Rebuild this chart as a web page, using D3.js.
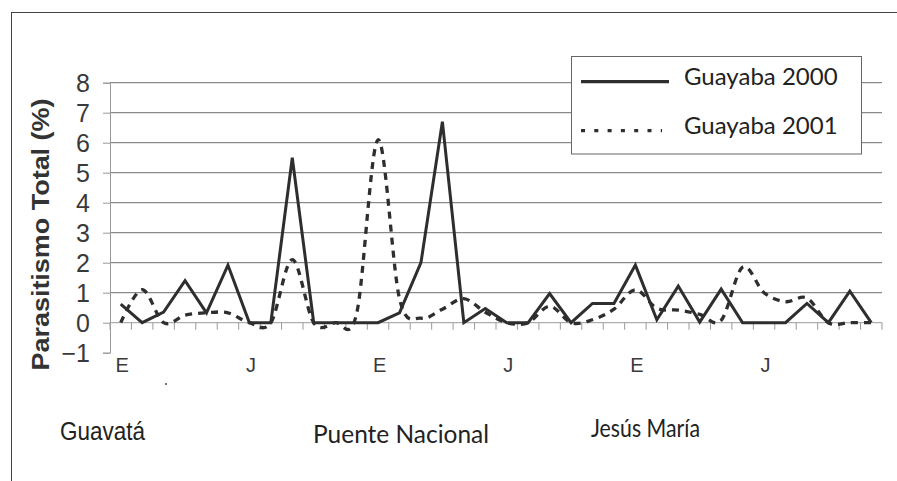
<!DOCTYPE html>
<html>
<head>
<meta charset="utf-8">
<script src="https://cdn.jsdelivr.net/npm/d3@7"></script>
<style>
  html, body { margin: 0; padding: 0; background: #fff; }
  svg { display: block; }
</style>
</head>
<body>
<div id="chart"></div>
<script>
// Months of each site (only every 6th label is shown: E = enero, J = julio)
const months = ["E", "F", "M", "A", "M", "J", "J", "A", "S", "O", "N", "D"];
const locations = ["Guavatá", "Puente Nacional", "Jesús María"];
const seriesNames = ["Guayaba 2000", "Guayaba 2001"];
const yTicks = [-1, 0, 1, 2, 3, 4, 5, 6, 7, 8];

// Parasitismo total (%) per month, 3 sites x 12 months
const guayaba2000 = [
  0.62, 0, 0.35, 1.4, 0.33, 1.92, 0, 0, 5.5, 0, 0, 0,
  0, 0.33, 2.0, 6.7, 0, 0.47, 0, 0, 0.97, 0, 0.64, 0.64,
  1.92, 0.1, 1.22, 0.02, 1.12, 0, 0, 0, 0.64, 0, 1.05, 0
];
const guayaba2001 = [
  0, 1.1, 0, 0.25, 0.33, 0.33, 0, 0, 2.1, 0, 0, 0.3,
  6.1, 0.8, 0.15, 0.45, 0.8, 0.35, 0, 0, 0.55, 0, 0.1, 0.45,
  1.1, 0.48, 0.42, 0.28, 0.08, 1.85, 1.0, 0.7, 0.82, 0, 0, 0
];

const width = 897, height = 481;
const plotLeft = 110, plotRight = 882, plotTop = 82.7, plotBottom = 352.7;
const ink = "#2e2e2e";

const categories = d3.range(locations.length * months.length);

const svg = d3.select("#chart")
  .append("svg")
  .attr("width", width)
  .attr("height", height);

// outer frame (runs off the right and bottom edges)
svg.append("rect")
  .attr("x", 11.5).attr("y", 12.5)
  .attr("width", width + 20).attr("height", height + 20)
  .attr("fill", "none")
  .attr("stroke", "#444")
  .attr("stroke-width", 1);

const x = d3.scaleBand()
  .domain(categories)
  .range([plotLeft, plotRight]);

const y = d3.scaleLinear()
  .domain([-1, 8])
  .range([plotBottom, plotTop]);

// gridlines
svg.append("g")
  .selectAll("line")
  .data(yTicks.filter(d => d > 0))
  .join("line")
  .attr("x1", plotLeft).attr("x2", plotRight)
  .attr("y1", d => y(d)).attr("y2", d => y(d))
  .attr("stroke", "#6e6e6e")
  .attr("stroke-width", 1);

// y axis
const yAxis = svg.append("g")
  .attr("transform", `translate(${plotLeft},0)`)
  .call(d3.axisLeft(y).tickValues(yTicks).tickSize(7).tickPadding(13).tickFormat(d3.format("d")));
yAxis.select(".domain").attr("stroke", "#999");
yAxis.selectAll(".tick line").attr("stroke", "#999");
yAxis.selectAll(".tick text")
  .attr("fill", "#3a3a3a")
  .attr("font-family", "'Liberation Sans', Arial, sans-serif")
  .attr("font-size", 25)
  .attr("dy", "0.36em");

// x axis line at zero, ticks on the band edges
const xEdges = categories.map(d => x(d)).concat([plotRight]);
svg.append("line")
  .attr("x1", plotLeft).attr("x2", plotRight)
  .attr("y1", y(0)).attr("y2", y(0))
  .attr("stroke", "#9a9a9a");
svg.append("g")
  .selectAll("line")
  .data(xEdges)
  .join("line")
  .attr("x1", d => d).attr("x2", d => d)
  .attr("y1", y(0)).attr("y2", y(0) + 7)
  .attr("stroke", "#9a9a9a");

// month labels below the plot
svg.append("g")
  .selectAll("text")
  .data(categories.filter(i => i % 6 === 0))
  .join("text")
  .attr("x", i => x(i) + x.bandwidth() / 2 + 1.5)
  .attr("y", 372)
  .attr("text-anchor", "middle")
  .attr("font-family", "'Liberation Sans', Arial, sans-serif")
  .attr("font-size", 20)
  .attr("fill", "#3a3a3a")
  .text(i => months[i % months.length]);

// y axis title
svg.append("text")
  .attr("transform", "translate(49,234.5) rotate(-90)")
  .attr("text-anchor", "middle")
  .attr("font-family", "'Liberation Sans', Arial, sans-serif")
  .attr("font-weight", "bold")
  .attr("font-size", 24)
  .attr("textLength", 272)
  .attr("lengthAdjust", "spacingAndGlyphs")
  .attr("fill", "#333")
  .text("Parasitismo Total (%)");

// series lines
const line2000 = d3.line()
  .x((d, i) => x(i) + x.bandwidth() / 2)
  .y(d => y(d));

const line2001 = d3.line()
  .x((d, i) => x(i) + x.bandwidth() / 2)
  .y(d => y(d))
  .curve(d3.curveCardinal.tension(0));

svg.append("path")
  .datum(guayaba2001)
  .attr("d", line2001)
  .attr("fill", "none")
  .attr("stroke", ink)
  .attr("stroke-width", 3.3)
  .attr("stroke-dasharray", "7,6");

svg.append("path")
  .datum(guayaba2000)
  .attr("d", line2000)
  .attr("fill", "none")
  .attr("stroke", ink)
  .attr("stroke-width", 3)
  .attr("stroke-linejoin", "miter");

// legend
const legend = svg.append("g");
legend.append("rect")
  .attr("x", 571.5).attr("y", 56.5)
  .attr("width", 290).attr("height", 97.5)
  .attr("fill", "#fff")
  .attr("stroke", "#666");

const legendRows = legend.selectAll("g")
  .data(seriesNames)
  .join("g")
  .attr("transform", (d, i) => `translate(0,${i === 0 ? 81.7 : 130.7})`);

legendRows.append("line")
  .attr("x1", 581).attr("x2", (d, i) => i === 0 ? 669 : 662)
  .attr("stroke", ink)
  .attr("stroke-width", 3.2)
  .attr("stroke-dasharray", (d, i) => i === 0 ? null : "4,9.3");

legendRows.append("text")
  .attr("x", 684)
  .attr("y", 3)
  .attr("font-family", "Lato, 'Open Sans', sans-serif")
  .attr("font-size", 24)
  .attr("fill", "#222")
  .text(d => d);

// site labels (manual text boxes under the axis)
const siteX = [60, 313, 591];
const siteY = [440, 442.5, 437];
const siteW = [85, 176, 109];
svg.append("g")
  .selectAll("text")
  .data(locations)
  .join("text")
  .attr("x", (d, i) => siteX[i])
  .attr("y", (d, i) => siteY[i])
  .attr("font-family", (d, i) => i === 0
    ? "'Liberation Sans', Arial, sans-serif"
    : "Lato, 'Open Sans', sans-serif")
  .attr("font-size", 25)
  .attr("textLength", (d, i) => siteW[i])
  .attr("lengthAdjust", "spacingAndGlyphs")
  .attr("fill", "#222")
  .text(d => d);

// small stray mark under the first site
svg.append("line")
  .attr("x1", 165).attr("x2", 167)
  .attr("y1", 384).attr("y2", 384)
  .attr("stroke", "#444")
  .attr("stroke-width", 1.5);
</script>
</body>
</html>
